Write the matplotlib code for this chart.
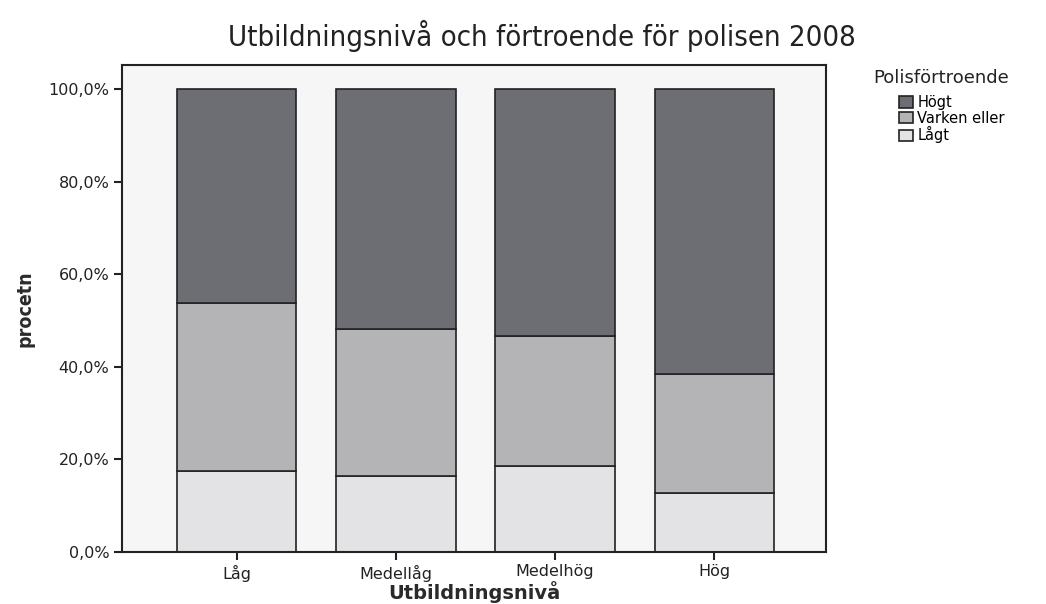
import matplotlib
matplotlib.use("Agg")
import matplotlib.pyplot as plt
import numpy as np

categories = ["Låg", "Medellåg", "Medelhög", "Hög"]
series_names = ["Högt", "Varken eller", "Lågt"]
lagt = [17.4, 16.4, 18.6, 12.7]
varken = [36.4, 31.8, 28.1, 25.7]
hogt = [46.2, 51.8, 53.3, 61.6]

colors = {"Högt": "#6d6d74", "Varken eller": "#b4b4b7", "Lågt": "#e3e3e5"}

fig = plt.figure(figsize=(10.46, 6.04), dpi=100)
ax = fig.add_axes([0.1166, 0.0861, 0.673, 0.8063])
ax.set_facecolor("#f6f6f6")

x = np.arange(len(categories))
w = 0.75
ax.bar(x, lagt, w, color=colors["Lågt"], edgecolor="#222222", linewidth=1.2, label="Lågt", zorder=2)
ax.bar(x, varken, w, bottom=lagt, color=colors["Varken eller"], edgecolor="#222222", linewidth=1.2, label="Varken eller", zorder=2)
bottom2 = [a + b for a, b in zip(lagt, varken)]
ax.bar(x, hogt, w, bottom=bottom2, color=colors["Högt"], edgecolor="#222222", linewidth=1.2, label="Högt", zorder=2)

ax.set_xlim(-0.72, 3.70)
ax.set_ylim(0, 105.2)
yt = [0, 20, 40, 60, 80, 100]
ax.set_yticks(yt)
ax.set_yticklabels([f"{v:.1f}%".replace(".", ",") for v in yt], fontfamily="DejaVu Sans", fontsize=11.5, color="#222222")
ax.set_xticks(x)
ax.set_xticklabels(categories, fontfamily="DejaVu Sans", fontsize=11.5, color="#222222")
ax.tick_params(axis="both", direction="out", length=6, width=1.5, color="#222222", pad=3)
for s in ax.spines.values():
    s.set_linewidth(1.5)
    s.set_color("#222222")

ax.set_xlabel("Utbildningsnivå", fontfamily="DejaVu Sans", fontweight="bold", fontsize=14, labelpad=0, color="#2a2a2a")
ax.set_ylabel("procetn", fontfamily="DejaVu Sans", fontstretch="condensed", fontweight="bold", fontsize=14, labelpad=10, color="#2a2a2a")

fig.text(0.518, 0.94, "Utbildningsnivå och förtroende för polisen 2008", ha="center", va="center",
         fontfamily="DejaVu Sans", fontstretch="condensed", fontsize=21, color="#222222")

handles, labels = ax.get_legend_handles_labels()
order = [2, 1, 0]
fig.text(873 / 1046, 1 - 78 / 604, "Polisförtroende", ha="left", va="center",
         fontfamily="DejaVu Sans", fontsize=13, color="#222222")
leg = fig.legend([handles[i] for i in order], [labels[i] for i in order],
                 loc="upper left", bbox_to_anchor=(899 / 1046, 1 - 95 / 604), frameon=False,
                 prop={"family": "DejaVu Sans", "size": 10.5},
                 handlelength=0.95, handleheight=0.8, handletextpad=0.3, labelspacing=0.05,
                 borderpad=0, borderaxespad=0)

fig.savefig("out.png", dpi=100)
